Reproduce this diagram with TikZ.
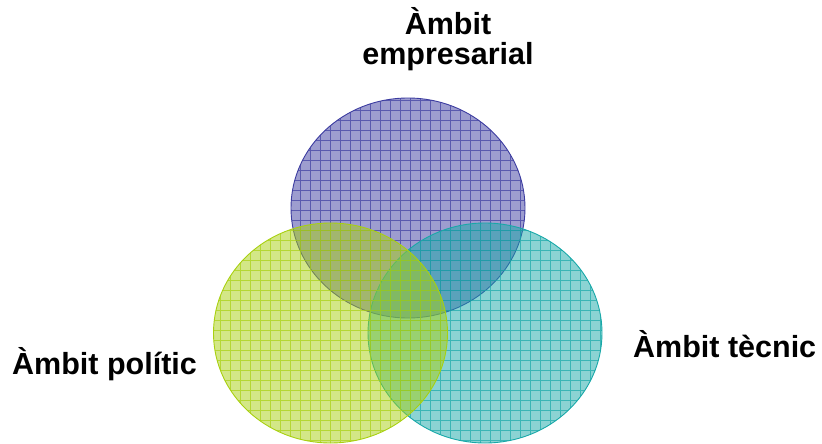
\documentclass[tikz,border=0pt]{standalone}
\usepackage{fontspec}
\setmainfont{Liberation Sans}
\definecolor{cpur}{HTML}{3C3CA0}
\definecolor{cgrn}{HTML}{A8D010}
\definecolor{cteal}{HTML}{18A8A8}
\tikzset{
  disk/.style={fill=#1, fill opacity=0.5, draw=#1, line width=0.9pt},
  gridlines/.style={draw=#1, draw opacity=0.7, line width=0.6pt},
  lbl/.style={font=\fontsize{30.5}{34}\selectfont\bfseries, inner sep=0pt}
}
\begin{document}
\begin{tikzpicture}[x=1pt,y=-1pt]
\useasboundingbox (0,0) rectangle (822,444);
% top (purple)
\path[disk=cpur] (408,208) ellipse [x radius=117, y radius=110];
\begin{scope}
\clip (408,208) ellipse [x radius=117, y radius=110];
\draw[gridlines=cpur] (288,95) grid[step=10pt] (530,320);
\end{scope}
% right (teal)
\path[disk=cteal] (485,333) ellipse [x radius=117, y radius=110];
\begin{scope}
\clip (485,333) ellipse [x radius=117, y radius=110];
\draw[gridlines=cteal] (365,220) grid[step=10pt] (610,450);
\end{scope}
% left (green)
\path[disk=cgrn] (330.5,333) ellipse [x radius=117, y radius=110];
\begin{scope}
\clip (330.5,333) ellipse [x radius=117, y radius=110];
\draw[gridlines=cgrn] (210,220) grid[step=10pt] (450,450);
\end{scope}
\node[lbl, anchor=base] (emp1) at (448,35) {Àmbit};
\node[lbl, anchor=base] (emp2) at (448,65) {empresarial};
\node[lbl, anchor=base west] (pol) at (12,374) {Àmbit polític};
\node[lbl, anchor=base west] (tec) at (633,357) {Àmbit tècnic};
\end{tikzpicture}
\end{document}
